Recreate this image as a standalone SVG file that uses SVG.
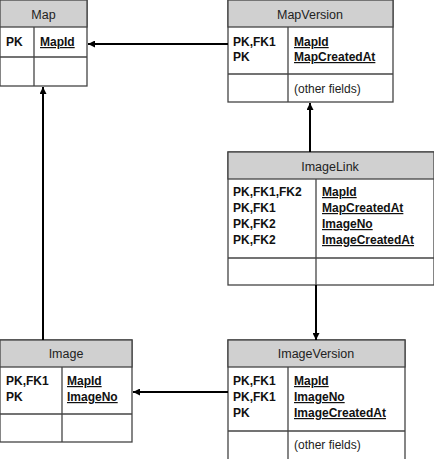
<svg xmlns="http://www.w3.org/2000/svg" width="434" height="459" viewBox="0 0 434 459">
<style>
.b{fill:#fff;stroke:#444;stroke-width:1.3}
.h{fill:#d0d0d0;stroke:#444;stroke-width:1.3}
.l{stroke:#444;stroke-width:1.3}
.t{font-family:"Liberation Sans",Arial,sans-serif;font-size:12.5px;fill:#222;text-anchor:middle}
.f{font-family:"Liberation Sans",Arial,sans-serif;font-size:12px;font-weight:bold;fill:#111}
.u{text-decoration:underline}
.o{font-family:"Liberation Sans",Arial,sans-serif;font-size:12px;fill:#222}
.c{stroke:#000;stroke-width:2;fill:none;marker-end:url(#a)}
</style>
<defs><marker id="a" viewBox="0 0 10 10" refX="10" refY="5" markerWidth="7" markerHeight="7" markerUnits="userSpaceOnUse" orient="auto"><path d="M0,0L10,5L0,10z" fill="#000"/></marker></defs>
<g id="Map">
<rect class="b" x="0" y="0" width="87" height="86"/><rect class="h" x="0" y="0" width="87" height="27"/>
<line class="l" x1="34" y1="27" x2="34" y2="86"/><line class="l" x1="0" y1="57" x2="87" y2="57"/>
<text class="t" x="43.5" y="19">Map</text>
<text class="f" x="6" y="46">PK</text><text class="f u" x="40" y="46">MapId</text>
</g>
<g id="MapVersion">
<rect class="b" x="228" y="0" width="165" height="102"/><rect class="h" x="228" y="0" width="165" height="27"/>
<line class="l" x1="288" y1="27" x2="288" y2="102"/><line class="l" x1="228" y1="74" x2="393" y2="74"/>
<text class="t" x="310" y="19">MapVersion</text>
<text class="f" x="233" y="46">PK,FK1</text><text class="f" x="233" y="61">PK</text>
<text class="f u" x="294" y="46">MapId</text><text class="f u" x="294" y="61">MapCreatedAt</text>
<text class="o" x="294" y="93">(other fields)</text>
</g>
<g id="ImageLink">
<rect class="b" x="228" y="152" width="206" height="133"/><rect class="h" x="228" y="152" width="206" height="27"/>
<line class="l" x1="316" y1="179" x2="316" y2="285"/><line class="l" x1="228" y1="258" x2="434" y2="258"/>
<text class="t" x="330" y="171">ImageLink</text>
<text class="f" x="233" y="196">PK,FK1,FK2</text><text class="f" x="233" y="212">PK,FK1</text><text class="f" x="233" y="228">PK,FK2</text><text class="f" x="233" y="244">PK,FK2</text>
<text class="f u" x="322" y="196">MapId</text><text class="f u" x="322" y="212">MapCreatedAt</text><text class="f u" x="322" y="228">ImageNo</text><text class="f u" x="322" y="244">ImageCreatedAt</text>
</g>
<g id="ImageVersion">
<rect class="b" x="228" y="340" width="177" height="125"/><rect class="h" x="228" y="340" width="177" height="27"/>
<line class="l" x1="288" y1="367" x2="288" y2="465"/><line class="l" x1="228" y1="431" x2="405" y2="431"/>
<text class="t" x="316" y="358">ImageVersion</text>
<text class="f" x="233" y="385">PK,FK1</text><text class="f" x="233" y="401">PK,FK1</text><text class="f" x="233" y="417">PK</text>
<text class="f u" x="294" y="385">MapId</text><text class="f u" x="294" y="401">ImageNo</text><text class="f u" x="294" y="417">ImageCreatedAt</text>
<text class="o" x="294" y="449">(other fields)</text>
</g>
<g id="Image">
<rect class="b" x="0" y="340" width="132" height="102"/><rect class="h" x="0" y="340" width="132" height="27"/>
<line class="l" x1="62" y1="367" x2="62" y2="442"/><line class="l" x1="0" y1="414" x2="132" y2="414"/>
<text class="t" x="66" y="358">Image</text>
<text class="f" x="6" y="385">PK,FK1</text><text class="f" x="6" y="401">PK</text>
<text class="f u" x="67" y="385">MapId</text><text class="f u" x="67" y="401">ImageNo</text>
</g>
<g id="connectors">
<line class="c" x1="228" y1="44" x2="88" y2="44"/>
<line class="c" x1="310" y1="152" x2="310" y2="103"/>
<line class="c" x1="316" y1="285" x2="316" y2="340"/>
<line class="c" x1="228" y1="392" x2="133" y2="392"/>
<line class="c" x1="43" y1="340" x2="43" y2="87"/>
</g>
</svg>
